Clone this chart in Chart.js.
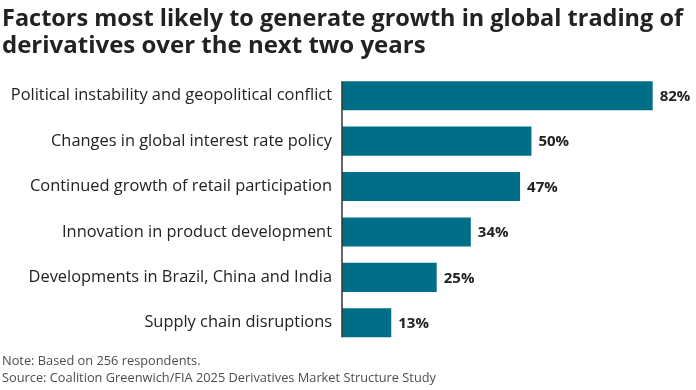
<!DOCTYPE html>
<html>
<head>
<meta charset="utf-8">
<script src="https://cdn.jsdelivr.net/npm/chart.js@4"></script>
<style>
    html, body { margin: 0; padding: 0; background: #fff; }
    #wrap { width: 696px; height: 390px; position: relative; }
</style>
</head>
<body>
<div id="wrap"><canvas id="factors-chart"></canvas></div>
<script>
const categories = [
    'Political instability and geopolitical conflict',
    'Changes in global interest rate policy',
    'Continued growth of retail participation',
    'Innovation in product development',
    'Developments in Brazil, China and India',
    'Supply chain disruptions'
];
const shares = [82, 50, 47, 34, 25, 13];
const titleLines = ['Factors most likely to generate growth in global trading of', 'derivatives over the next two years'];
const footerLines = ['Note: Based on 256 respondents.', 'Source: Coalition Greenwich/FIA 2025 Derivatives Market Structure Study'];

const FONT = '"Open Sans", Roboto, sans-serif';

// value labels at the end of each bar
const valueLabels = {
    id: 'valueLabels',
    afterDatasetsDraw(chart) {
        const ctx = chart.ctx;
        const meta = chart.getDatasetMeta(0);
        ctx.save();
        ctx.font = 'bold 15px ' + FONT;
        ctx.fillStyle = '#222';
        ctx.textAlign = 'left';
        ctx.textBaseline = 'middle';
        meta.data.forEach((bar, i) => {
            ctx.fillText(shares[i] + '%', bar.x + 7, bar.y + 1);
        });
        ctx.restore();
    }
};

// axis line only as tall as the bars
const axisLine = {
    id: 'axisLine',
    afterDatasetsDraw(chart) {
        const ctx = chart.ctx;
        const bars = chart.getDatasetMeta(0).data;
        const first = bars[0], last = bars[bars.length - 1];
        ctx.save();
        ctx.strokeStyle = '#333';
        ctx.lineWidth = 1.5;
        ctx.beginPath();
        ctx.moveTo(chart.chartArea.left, first.y - first.height / 2);
        ctx.lineTo(chart.chartArea.left, last.y + last.height / 2);
        ctx.stroke();
        ctx.restore();
    }
};

new Chart(document.getElementById('factors-chart').getContext('2d'), {
    type: 'bar',
    data: {
        labels: categories,
        datasets: [{
            data: shares,
            backgroundColor: '#006E87',
            barPercentage: 0.64,
            categoryPercentage: 1.0
        }]
    },
    options: {
        indexAxis: 'y',
        responsive: true,
        maintainAspectRatio: false,
        animation: false,
        layout: { padding: { left: 2, right: 13, top: 6, bottom: 4 } },
        scales: {
            x: {
                display: false,
                min: 0,
                max: 90
            },
            y: {
                grid: { display: false, drawTicks: false },
                border: { display: false },
                ticks: {
                    color: '#222',
                    font: { family: FONT, size: 16.4 },
                    padding: 10
                },
                afterFit(scale) { scale.width = 340; }
            }
        },
        plugins: {
            legend: { display: false },
            tooltip: { enabled: false },
            title: {
                display: true,
                text: titleLines,
                align: 'start',
                color: '#222',
                font: { family: FONT, size: 24, weight: 'bold', lineHeight: 1.125 },
                padding: { top: 0, bottom: 13 }
            },
            subtitle: {
                display: true,
                position: 'bottom',
                text: footerLines,
                align: 'start',
                color: '#4d4d4d',
                font: { family: FONT, size: 12.8, lineHeight: 1.27 },
                padding: { top: 8, bottom: 0 }
            }
        }
    },
    plugins: [valueLabels, axisLine]
});
</script>
</body>
</html>
